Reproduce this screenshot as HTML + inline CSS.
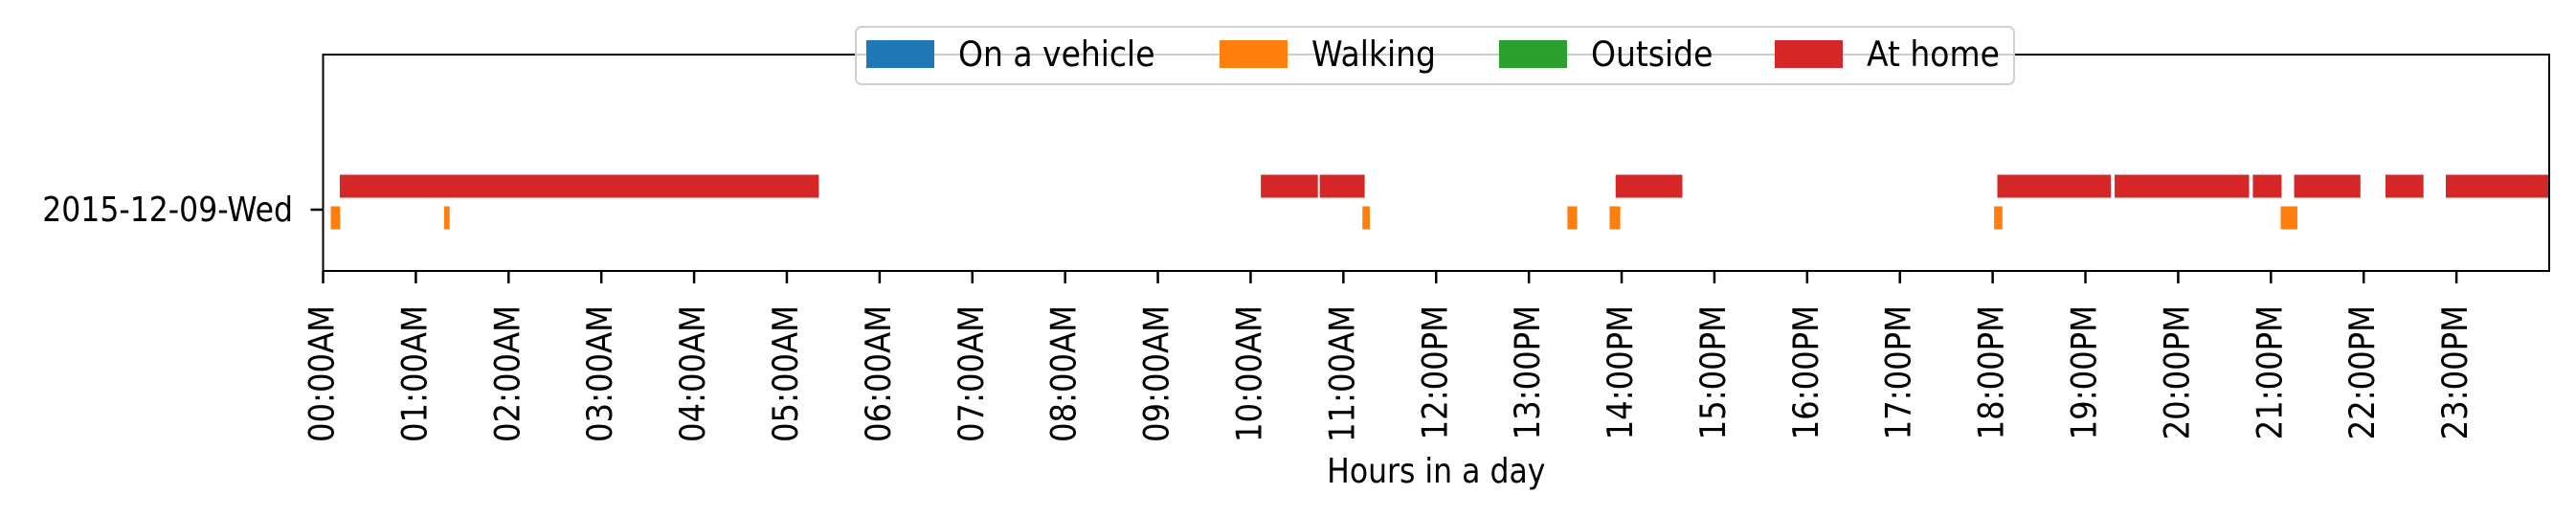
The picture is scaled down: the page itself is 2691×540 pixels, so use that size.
<!DOCTYPE html>
<html><head><meta charset="utf-8"><style>
html,body{margin:0;padding:0;background:#fff}
svg{display:block;font-family:"DejaVu Sans","Liberation Sans",sans-serif}
</style></head><body>
<svg id="chart" width="2691" height="540" viewBox="0 0 2691 540">
<g id="bars"></g>
<g id="axes"></g>
<g id="legend"></g>
</svg>
<script>
const categories = ["On a vehicle","Walking","Outside","At home"];
const colors = ["#1f77b4","#ff7f0e","#2ca02c","#d62728"];
const walkStarts = [0.078, 1.30, 11.20, 13.41, 13.865, 18.01, 21.10];
const walkEnds   = [0.19, 1.37, 11.29, 13.525, 13.99, 18.11, 21.29];
const homeStarts = [0.175, 10.105, 10.74, 13.93, 18.045, 19.31, 20.80, 21.245, 22.23, 22.88];
const homeEnds   = [5.35, 10.73, 11.235, 14.66, 19.28, 20.77, 21.12, 21.97, 22.65, 24.0];
const tickHours = [0,1,2,3,4,5,6,7,8,9,10,11,12,13,14,15,16,17,18,19,20,21,22,23];
const tickLabels = ["00:00AM","01:00AM","02:00AM","03:00AM","04:00AM","05:00AM","06:00AM","07:00AM","08:00AM","09:00AM","10:00AM","11:00AM","12:00PM","13:00PM","14:00PM","15:00PM","16:00PM","17:00PM","18:00PM","19:00PM","20:00PM","21:00PM","22:00PM","23:00PM"];
const dayLabels = ["2015-12-09-Wed"];

const NS="http://www.w3.org/2000/svg";
const L=337.5, R=2663, T=57, B=283;
const x = h => L + (h/24)*(R-L);
function mk(tag, attrs, parent){const e=document.createElementNS(NS,tag);for(const k in attrs)e.setAttribute(k,attrs[k]);parent.appendChild(e);return e;}
const bars=document.getElementById('bars'), axes=document.getElementById('axes'), leg=document.getElementById('legend');

function drawSeries(starts, ends, y0, y1, color, name){
  for(let i=0;i<starts.length;i++){
    const r=mk('rect',{x:x(starts[i]),y:y0,width:Math.max(1,x(ends[i])-x(starts[i])),height:y1-y0,fill:color,stroke:'#fff','stroke-width':1},bars);
    
    
  }
}
drawSeries(homeStarts, homeEnds, 182, 207, colors[3], 'at-home');
drawSeries(walkStarts, walkEnds, 215, 240, colors[1], 'walking');

const fr=mk('rect',{x:L,y:T,width:R-L,height:B-T,fill:'none',stroke:'#000','stroke-width':2},axes);



tickHours.forEach((h,i)=>{
  const tx=x(h);
  const t=mk('line',{x1:tx,y1:B,x2:tx,y2:B+13,stroke:'#000','stroke-width':2.5},axes);
  
  
  const lb=mk('text',{x:0,y:0,transform:`translate(${tx+11},319) rotate(-90) scale(1,1.12)`,'text-anchor':'end','font-size':32.3,fill:'#000'},axes);
  lb.textContent=tickLabels[i];
  
  
});
dayLabels.forEach((d,i)=>{
  const yt=mk('line',{x1:L-13,y1:219,x2:L,y2:219,stroke:'#000','stroke-width':2.5},axes);
  
  
  const yl=mk('text',{x:0,y:0,transform:'translate(306,231) scale(1,1.12)','text-anchor':'end','font-size':31.5,fill:'#000'},axes);
  yl.textContent=d;
  
  
});
const xt=mk('text',{x:0,y:0,transform:`translate(${(L+R)/2},504) scale(1,1.12)`,'text-anchor':'middle','font-size':31.5,fill:'#000'},axes);
xt.textContent='Hours in a day';



const lbox=mk('rect',{x:894,y:28,width:1210,height:60,rx:6,fill:'#fff','fill-opacity':0.8,stroke:'#d0d0d0','stroke-width':2},leg);


const px=[905,1274,1566,1854];
categories.forEach((c,i)=>{
  const p=mk('rect',{x:px[i],y:42,width:71,height:29,fill:colors[i]},leg);
  
  
  const t=mk('text',{x:0,y:0,transform:`translate(${px[i]+96},69) scale(1,1.1)`,'font-size':33,fill:'#000'},leg);
  t.textContent=c;
  
  
});
</script>
</body></html>
